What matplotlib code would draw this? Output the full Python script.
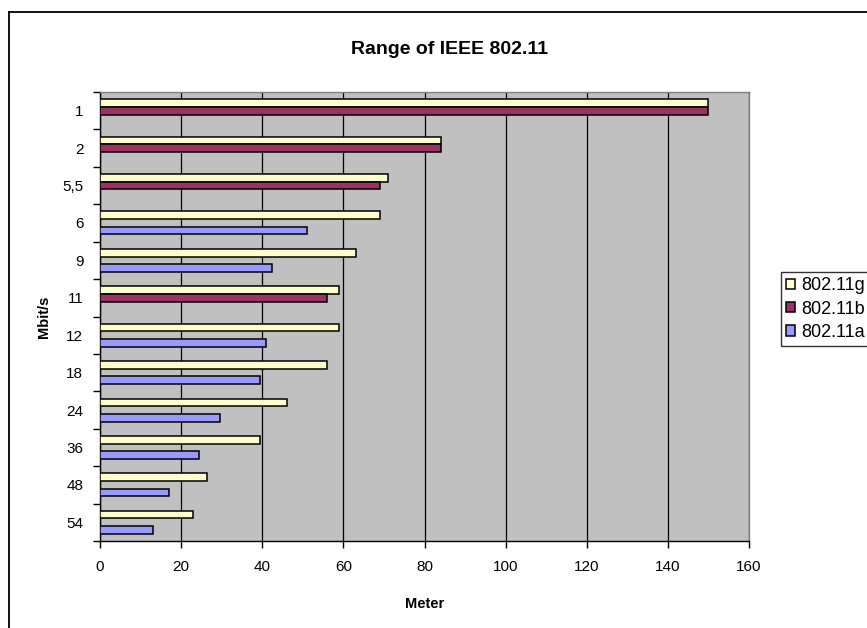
import numpy as np
import matplotlib.pyplot as plt
from matplotlib.lines import Line2D

plt.rcParams['font.family'] = ['Liberation Sans', 'DejaVu Sans']

rates = ['1', '2', '5,5', '6', '9', '11', '12', '18', '24', '36', '48', '54']
range_g = [150, 84, 71, 69, 63, 59, 59, 56, 46, 39.5, 26.5, 23]
range_b = [150, 84, 69, np.nan, np.nan, 56, np.nan, np.nan, np.nan, np.nan, np.nan, np.nan]
range_a = [np.nan, np.nan, np.nan, 51, 42.5, np.nan, 41, 39.5, 29.5, 24.5, 17, 13]

W, H = 867, 628
fig = plt.figure(figsize=(W / 100, H / 100), dpi=100)
fig.patch.set_facecolor('white')

# plot area in pixel terms
left, right, top, bottom = 100, 749, 92, 541
ax = fig.add_axes([left / W, 1 - bottom / H, (right - left) / W, (bottom - top) / H])
ax.set_facecolor('#C0C0C0')

y = np.arange(len(rates))
h = 0.205
series = [
    ('802.11g', range_g, '#FFFFCC', -h),
    ('802.11b', range_b, '#993366', 0),
    ('802.11a', range_a, '#9999FF', h),
]
handles = []
for name, vals, col, off in series:
    bars = ax.barh(y + off, vals, height=h, color=col, edgecolor='black',
                   linewidth=1.1, label=name, zorder=3)
    handles.append(bars)

ax.set_xlim(0, 160)
ax.set_ylim(len(rates) - 0.5, -0.5)
ax.set_xticks(np.arange(0, 161, 20))
ax.set_yticks(y)
ax.set_yticklabels(rates)
ax.set_yticks(np.arange(len(rates) + 1) - 0.5, minor=True)
ax.tick_params(axis='y', which='major', length=0, pad=12, labelsize=11)
ax.tick_params(axis='y', which='minor', length=5, width=1, direction='out')
ax.tick_params(axis='x', length=5, width=1, direction='out', pad=9, labelsize=11)

ax.grid(axis='x', color='black', linewidth=0.9, zorder=1)
for s in ['top', 'right']:
    ax.spines[s].set_color('#808080')
    ax.spines[s].set_linewidth(1)
for s in ['left', 'bottom']:
    ax.spines[s].set_color('black')
    ax.spines[s].set_linewidth(1)

ax.set_xlabel('Meter', fontsize=10.5, fontweight='bold', labelpad=16)
ax.set_ylabel('Mbit/s', fontsize=10.5, fontweight='bold', labelpad=8)
fig.text(450 / W, 1 - 50 / H, 'Range of IEEE 802.11', ha='center', va='center',
         fontsize=14, fontweight='bold')

# outer chart frame, running off the right and bottom edges
fig.add_artist(Line2D([8.5 / W, 1], [1 - 12 / H, 1 - 12 / H], color='black', lw=1.3))
fig.add_artist(Line2D([8.5 / W, 8.5 / W], [0, 1 - 12 / H], color='black', lw=1.3))

leg = fig.legend(handles=handles, loc='upper left',
                 bbox_to_anchor=(781 / W, 1 - 272 / H), fontsize=13,
                 frameon=True, fancybox=False, edgecolor='black',
                 handlelength=0.5, handleheight=0.5, handletextpad=0.3,
                 borderpad=0.3, labelspacing=0.35, borderaxespad=0)
leg.get_frame().set_linewidth(1)

fig.savefig('out.png', dpi=100)
